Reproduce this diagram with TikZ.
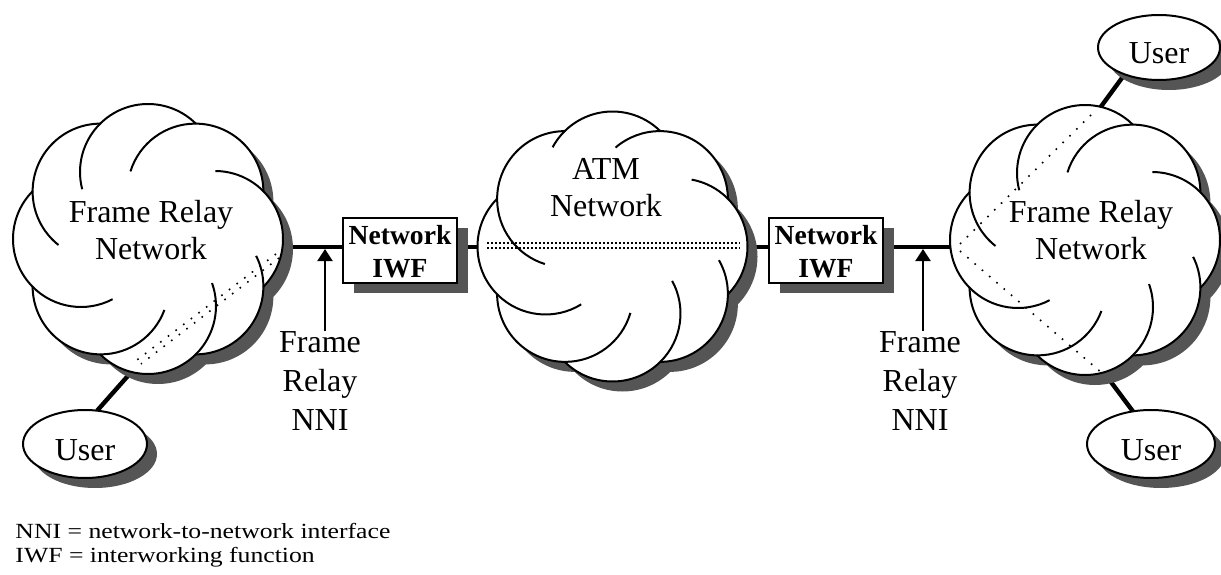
\documentclass[tikz,border=0pt]{standalone}
\usepackage{fontspec}
\setmainfont{Liberation Serif}
\usetikzlibrary{shapes.geometric,shadows,arrows.meta}
\definecolor{shadowgray}{HTML}{555555}
\pgfdeclarelayer{bg}
\pgfsetlayers{bg,main}
\newcommand{\mycloud}[2]{%
  \begin{scope}[shift={(#1)}]
    \begin{scope}[shift={(10,-10)}]
      \foreach \a in {0,45,...,315}{\fill[shadowgray] (\a:67) circle (68);}
    \end{scope}
    \foreach \a in {0,45,...,315}{\fill[white] (\a:67) circle (68);}
    \foreach \a/\e in {#2}{\draw[cloudline] (\a:67) ++(\a-44.7:68) arc[start angle={\a-44.7}, end angle={\a+44.7+\e}, radius=68];}
  \end{scope}}
\begin{document}
\begin{tikzpicture}[x=0.5pt,y=0.5pt,
 cloudline/.style={line width=1pt},
 conn/.style={line width=2.2pt},
 dots/.style={line width=0.8pt, dash pattern=on 0.8pt off 1.2pt},
 sparse/.style={line width=0.8pt, dash pattern=on 0.8pt off 4pt},
 cloudtext/.style={font=\fontsize{16}{18.5}\selectfont, align=center, inner sep=0pt},
 nnitext/.style={font=\fontsize{16}{19.5}\selectfont, align=center, inner sep=0pt},
 iwfbox/.style={draw, line width=1pt, fill=white, minimum width=57pt, minimum height=32.5pt, inner sep=0pt, outer sep=0pt, drop shadow={shadow xshift=5.5pt, shadow yshift=-5pt, fill=shadowgray, opacity=1}},
 iwftext/.style={font=\fontsize{13.8}{16.5}\selectfont\bfseries, align=center, inner sep=0pt},
 user/.style={ellipse, draw, line width=1pt, fill=white, inner sep=0pt, outer sep=0pt, font=\fontsize{16}{18}\selectfont, text height=16pt, text depth=0pt, drop shadow={shadow xshift=5pt, shadow yshift=-5pt, fill=shadowgray, opacity=1}},
 nniarrow/.style={line width=1pt, -{Triangle[width=7.5pt,length=6pt]}},
 legend/.style={font=\fontsize{10.8}{12}\selectfont, xscale=1.19, transform shape, inner sep=0pt, anchor=base west}]
\useasboundingbox (0,0) rectangle (1221,574);
\begin{pgfonlayer}{bg}\fill[white] (0,0) rectangle (1221,574);\end{pgfonlayer}

% clouds
\mycloud{148,335}{0/45,45/73,90/60,135/52,180/73,225/70,270/65,315/27}
\mycloud{612.5,327.5}{0/35,45/41,90/17,135/73,180/77,225/74,270/74,315/30}
\mycloud{1085,334}{0/45,45/73,90/60,135/52,180/73,225/70,270/65,315/27}

% attach points
\coordinate (lcE) at (283,327);
\coordinate (lcS) at (134,205);
\coordinate (atmW) at (478,327);
\coordinate (atmE) at (747,327);
\coordinate (rcW) at (951,327);
\coordinate (rcN) at (1097,462);
\coordinate (rcS) at (1105,200);

% dotted paths inside clouds
\coordinate (ld1a) at (276,320); \coordinate (ld1b) at (137,214);
\coordinate (ld2a) at (279,316); \coordinate (ld2b) at (141,210);
\draw[sparse] (ld1a) -- (ld1b);
\draw[sparse] (ld2a) -- (ld2b);
\coordinate (ad1a) at (487,331); \coordinate (ad1b) at (740,331);
\coordinate (ad2a) at (487,326); \coordinate (ad2b) at (740,326);
\draw[dots] (ad1a) -- (ad1b);
\draw[dots] (ad2a) -- (ad2b);
\coordinate (rd1a) at (960,330); \coordinate (rd1b) at (1094,462);
\coordinate (rd2a) at (960,323); \coordinate (rd2b) at (1103,200);
\draw[sparse] (rd1a) -- (rd1b);
\draw[sparse] (rd2a) -- (rd2b);

% cloud labels
\node[cloudtext] (lctext) at (151,343.5) {Frame Relay\\Network};
\node[cloudtext] (atmtext) at (606,386.5) {ATM\\Network};
\node[cloudtext] (rctext) at (1091,343.5) {Frame Relay\\Network};

% IWF boxes
\node[iwfbox] (lbox) at (400,323.5) {};
\node[iwftext] (lboxt) at (400,322) {Network\\IWF};
\node[iwfbox] (rbox) at (826,323.5) {};
\node[iwftext] (rboxt) at (826,322) {Network\\IWF};

% users
\node[user, minimum width=62pt, minimum height=34pt] (luser) at (85,130) {User};
\node[user, minimum width=61pt, minimum height=32.5pt] (truser) at (1159,526.5) {User};
\node[user, minimum width=64pt, minimum height=34pt] (bruser) at (1151,130) {User};

% NNI labels
\node[nnitext] (lnni) at (320,193) {Frame\\Relay\\NNI};
\coordinate (lnniT) at (325,325);
\node[nnitext] (rnni) at (920,193) {Frame\\Relay\\NNI};
\coordinate (rnniT) at (923,325);
\draw[nniarrow] (lnni.north -| lnniT) -- (lnniT);
\draw[nniarrow] (rnni.north -| rnniT) -- (rnniT);

% legend
\node[legend] (leg1) at (15,36) {NNI = network-to-network interface};
\node[legend] (leg2) at (15,12) {IWF = interworking function};

% connectors
\begin{pgfonlayer}{bg}
\draw[conn] (lcE) -- (lcE -| lbox.west);
\draw[conn] (atmW -| lbox.east) -- (atmW);
\draw[conn] (atmE) -- (atmE -| rbox.west);
\draw[conn] (rcW -| rbox.east) -- (rcW);
\draw[conn] (lcS) -- (luser.70);
\draw[conn] (rcN) -- (truser.218);
\draw[conn] (rcS) -- (bruser.119);
\end{pgfonlayer}
\end{tikzpicture}
\end{document}
